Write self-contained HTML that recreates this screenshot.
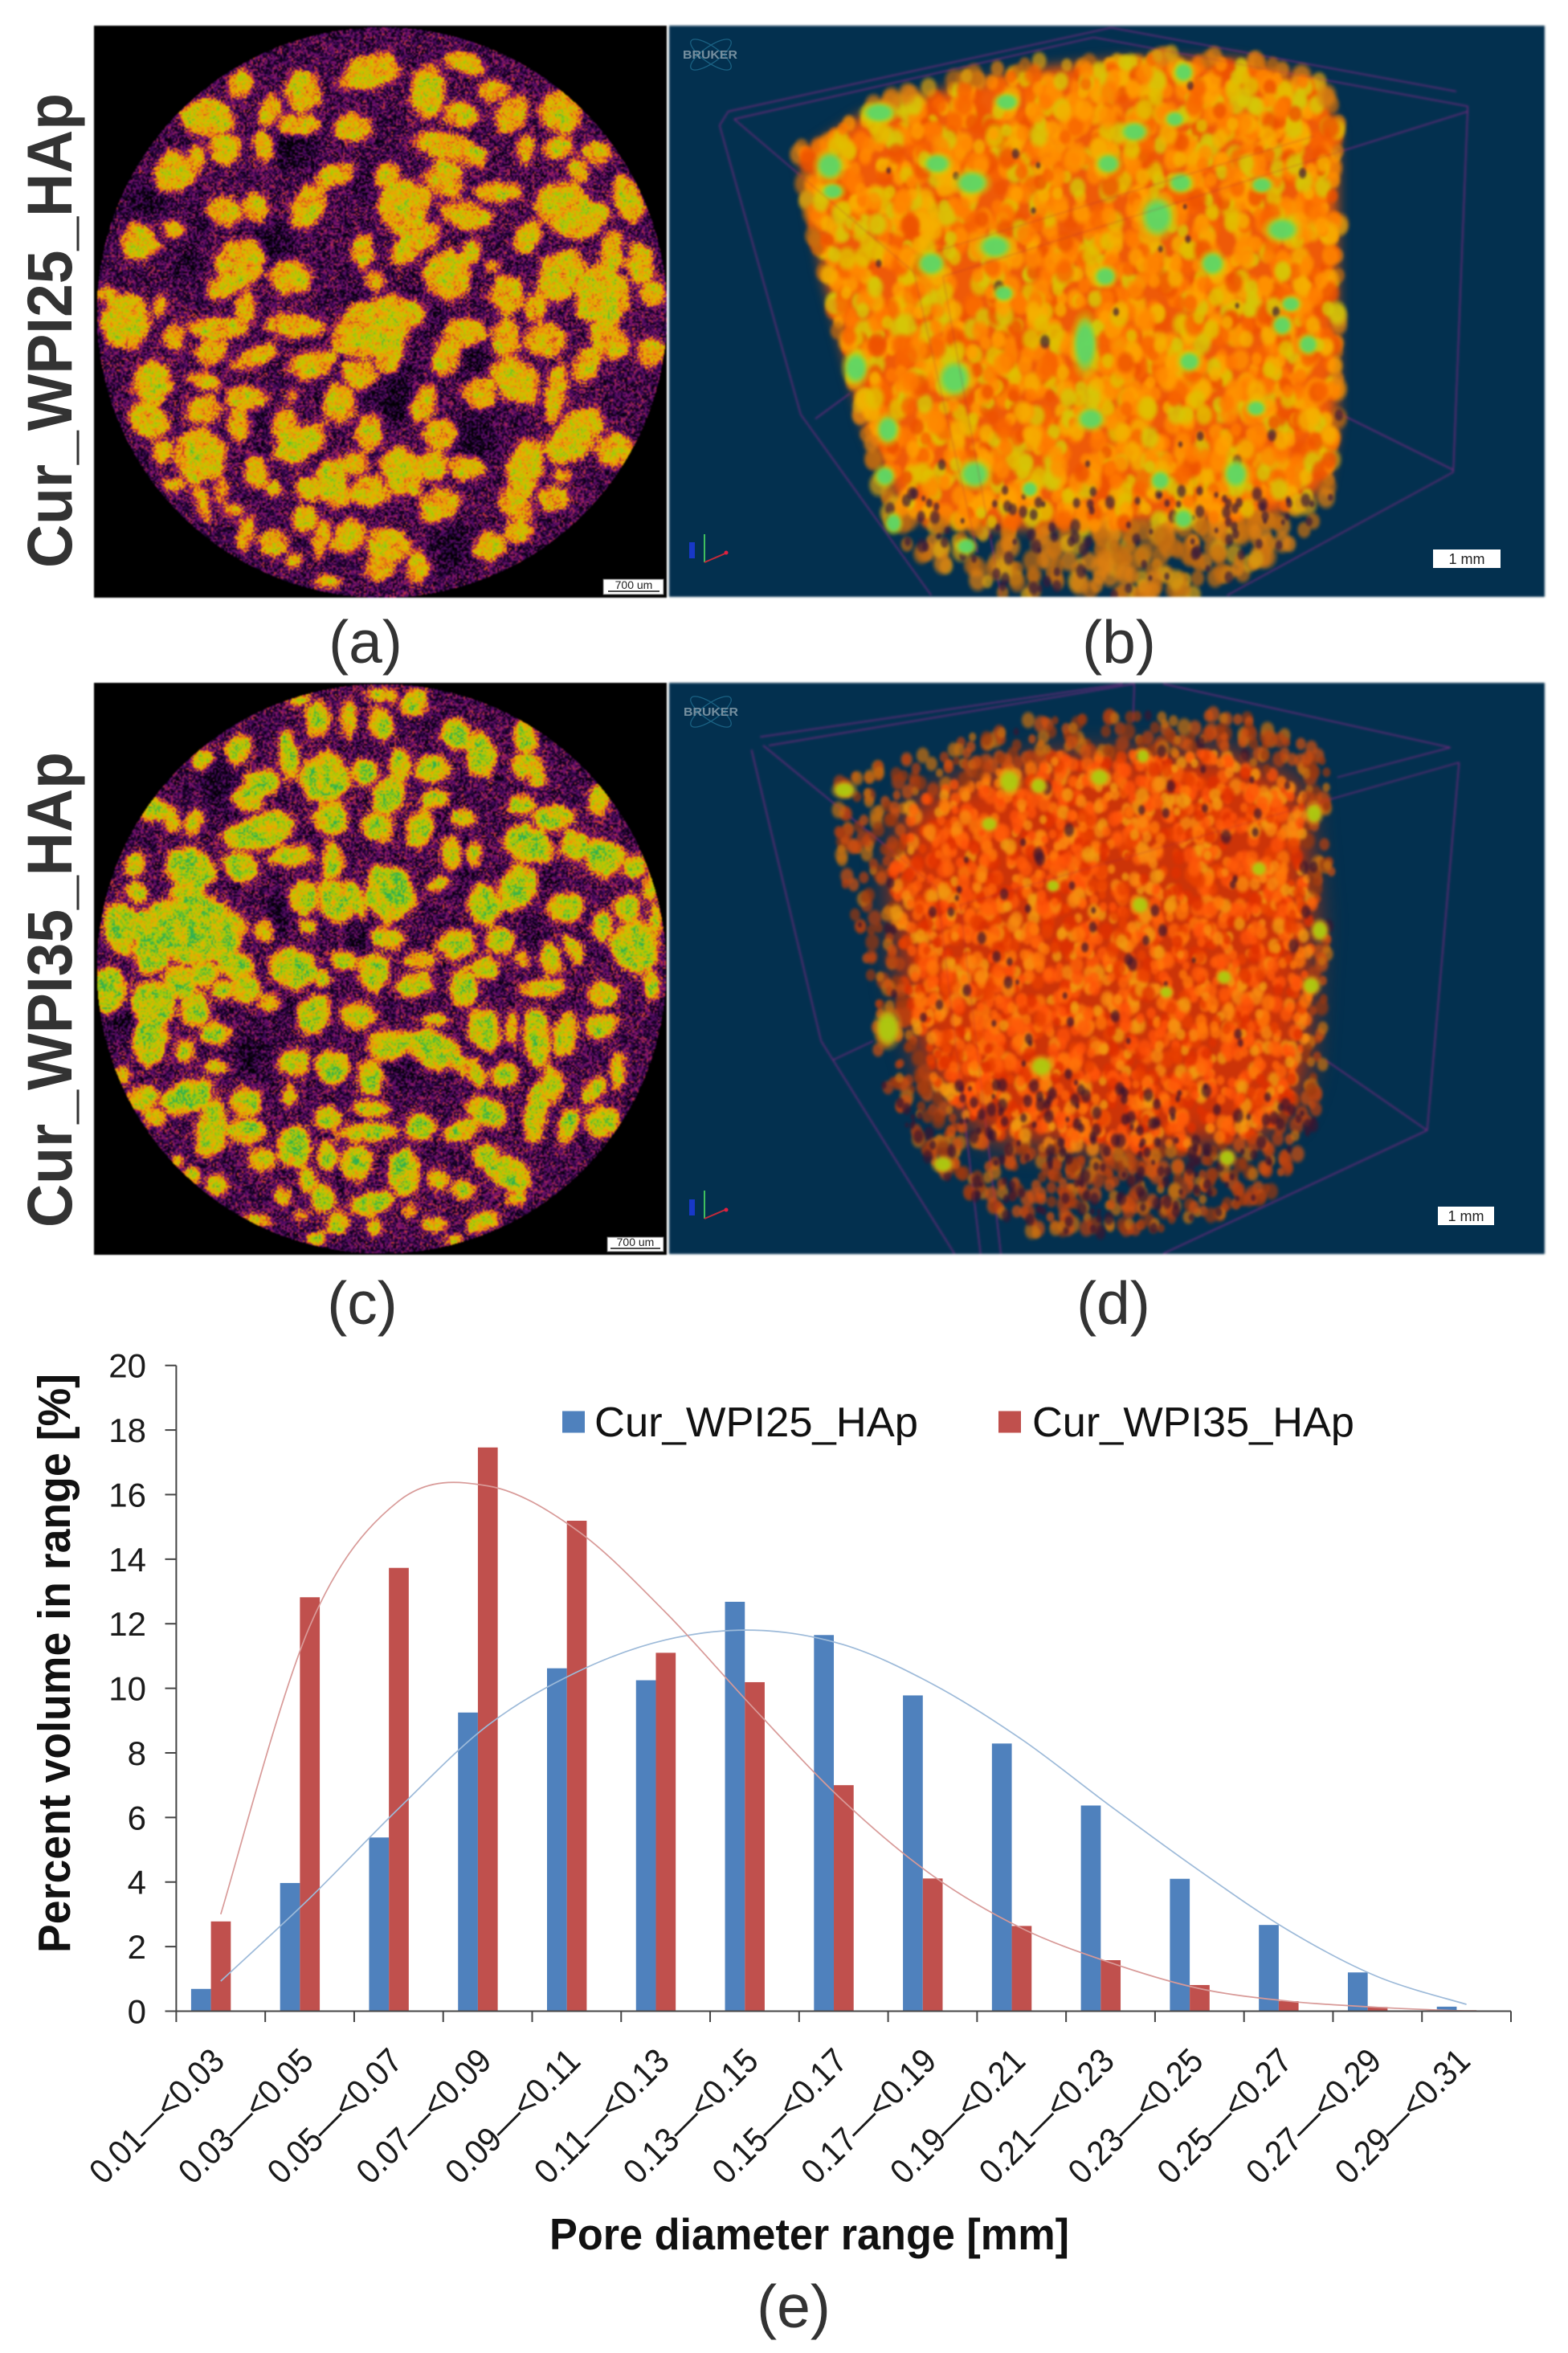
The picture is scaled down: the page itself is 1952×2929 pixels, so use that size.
<!DOCTYPE html>
<html lang="en">
<head>
<meta charset="utf-8">
<title>Cur_WPI HAp micro-CT and pore size distribution</title>
<style>
html,body{margin:0;padding:0;background:#fff;}
#figure{position:relative;width:1952px;height:2929px;overflow:hidden;background:#fff;font-family:"Liberation Sans",sans-serif;}
canvas{position:absolute;display:block;filter:blur(0.8px);}
#panelB,#panelD{filter:blur(1.4px);}
svg{position:absolute;left:0;top:0;}
svg text{font-family:"Liberation Sans",sans-serif;}
</style>
</head>
<body>
<div id="figure">
<canvas id="panelA" width="713" height="712" style="left:117px;top:32px"></canvas>
<canvas id="panelB" width="1090" height="711" style="left:833px;top:32px"></canvas>
<canvas id="panelC" width="713" height="712" style="left:117px;top:850px"></canvas>
<canvas id="panelD" width="1090" height="711" style="left:833px;top:850px"></canvas>

<svg id="overlay" width="1952" height="2929" viewBox="0 0 1952 2929">
  <g opacity="0.85">
    <ellipse cx="885" cy="68" rx="30" ry="10" fill="none" stroke="#1f6a8c" stroke-width="1.3" transform="rotate(35 885 68)"/>
    <ellipse cx="885" cy="68" rx="30" ry="10" fill="none" stroke="#1f6a8c" stroke-width="1.3" transform="rotate(-35 885 68)"/>
    <text x="850" y="73" font-size="15" font-weight="bold" fill="#8aa0ad" textLength="68" lengthAdjust="spacingAndGlyphs">BRUKER</text>
  </g>
  <g opacity="0.85">
    <ellipse cx="885" cy="886" rx="30" ry="10" fill="none" stroke="#1f6a8c" stroke-width="1.3" transform="rotate(35 885 886)"/>
    <ellipse cx="885" cy="886" rx="30" ry="10" fill="none" stroke="#1f6a8c" stroke-width="1.3" transform="rotate(-35 885 886)"/>
    <text x="851" y="891" font-size="15" font-weight="bold" fill="#8aa0ad" textLength="68" lengthAdjust="spacingAndGlyphs">BRUKER</text>
  </g>
  <g fill="none" stroke-width="2">
    <path d="M877 700V665" stroke="#3fbf5f"/><path d="M877 700L905 688" stroke="#c02a3a"/>
    <rect x="858" y="675" width="7" height="20" fill="#1838c8" stroke="none"/>
    <circle cx="904" cy="688" r="2.5" fill="#e02040" stroke="none"/>
  </g>
  <g fill="none" stroke-width="2">
    <path d="M877 1517V1482" stroke="#3fbf5f"/><path d="M877 1517L905 1505" stroke="#c02a3a"/>
    <rect x="858" y="1493" width="7" height="20" fill="#1838c8" stroke="none"/>
    <circle cx="904" cy="1506" r="2.5" fill="#e02040" stroke="none"/>
  </g>

  <g>
    <rect x="751" y="721" width="75" height="19" fill="#fff" stroke="#666"/>
    <text x="789" y="733" font-size="14" text-anchor="middle" fill="#222">700 um</text>
    <path d="M757 736H821" stroke="#111" stroke-width="1.5"/>
  </g>
  <g>
    <rect x="756" y="1540" width="70" height="18" fill="#fff" stroke="#666"/>
    <text x="791" y="1551" font-size="14" text-anchor="middle" fill="#222">700 um</text>
    <path d="M760 1554H822" stroke="#111" stroke-width="1.5"/>
  </g>
  <g>
    <rect x="1784" y="684" width="84" height="23" fill="#fff"/>
    <text x="1826" y="702" font-size="18" text-anchor="middle" fill="#222">1 mm</text>
  </g>
  <g>
    <rect x="1790" y="1502" width="70" height="23" fill="#fff"/>
    <text x="1825" y="1520" font-size="18" text-anchor="middle" fill="#222">1 mm</text>
  </g>

  <text transform="translate(89 707) rotate(-90)" font-size="79" font-weight="bold" fill="#333" textLength="591" lengthAdjust="spacingAndGlyphs">Cur_WPI25_HAp</text>
  <text transform="translate(89 1528) rotate(-90)" font-size="79" font-weight="bold" fill="#333" textLength="592" lengthAdjust="spacingAndGlyphs">Cur_WPI35_HAp</text>

  <text x="455" y="825" font-size="75" text-anchor="middle" fill="#333">(a)</text>
  <text x="1393" y="825" font-size="75" text-anchor="middle" fill="#333">(b)</text>
  <text x="451" y="1648" font-size="75" text-anchor="middle" fill="#333">(c)</text>
  <text x="1386" y="1648" font-size="75" text-anchor="middle" fill="#333">(d)</text>
  <text x="988" y="2897" font-size="75" text-anchor="middle" fill="#333">(e)</text>

  <g id="chart">
    <g id="bars"></g>
    <g id="curves"></g>
    <g id="axes"></g>
    <text transform="translate(87 2431) rotate(-90)" font-size="57" font-weight="bold" fill="#111" textLength="721" lengthAdjust="spacingAndGlyphs">Percent volume in range [%]</text>
    <text x="684" y="2800" font-size="55" font-weight="bold" fill="#111" textLength="647" lengthAdjust="spacingAndGlyphs">Pore diameter range [mm]</text>
    <g>
      <rect x="700" y="1756.5" width="28" height="27" fill="#4f81bd"/>
      <text x="740" y="1788" font-size="52" fill="#111" textLength="403" lengthAdjust="spacingAndGlyphs">Cur_WPI25_HAp</text>
      <rect x="1243" y="1756.5" width="28" height="27" fill="#c0504d"/>
      <text x="1285" y="1788" font-size="52" fill="#111" textLength="401" lengthAdjust="spacingAndGlyphs">Cur_WPI35_HAp</text>
    </g>
  </g>
</svg>
</div>

<script>
/* ---------- chart data ---------- */
const categories = ["0.01—<0.03","0.03—<0.05","0.05—<0.07","0.07—<0.09","0.09—<0.11","0.11—<0.13","0.13—<0.15","0.15—<0.17","0.17—<0.19","0.19—<0.21","0.21—<0.23","0.23—<0.25","0.25—<0.27","0.27—<0.29","0.29—<0.31"];
const valuesWPI25 = [0.69,3.97,5.38,9.25,10.62,10.25,12.68,11.65,9.78,8.29,6.37,4.1,2.67,1.2,0.14];
const valuesWPI35 = [2.78,12.82,13.73,17.46,15.19,11.1,10.19,7.0,4.11,2.64,1.58,0.81,0.31,0.13,0.03];
const trendWPI25 = [0.93,3.5,6.28,8.85,10.5,11.5,11.8,11.35,10.13,8.42,6.35,4.35,2.5,1.07,0.21];
const trendWPI35 = [3.0,11.92,15.8,16.27,14.9,12.35,9.35,6.5,4.2,2.57,1.5,0.7,0.31,0.12,0.0];
const yTickLabels = [0,2,4,6,8,10,12,14,16,18,20];

/* ---------- micro-CT appearance (cross-section grains: x, y, rx, ry, angle in crop units) ---------- */
const grainsA = [[720,170,55,40,-30],[590,210,32,45,0],[835,215,32,55,0],[910,150,45,22,30],[960,215,30,25,0],[1095,265,40,45,-20],[1000,270,28,40,10],[580,295,45,22,0],[690,300,35,28,0],[405,280,45,40,-20],[470,200,20,35,20],[525,260,20,35,20],[875,345,75,30,20],[900,270,30,30,40],[1090,345,25,25,0],[1025,350,15,30,0],[1165,365,28,28,30],[1130,400,18,30,-20],[340,405,38,45,0],[440,350,28,35,20],[515,345,20,35,-15],[385,375,15,30,0],[650,415,40,25,-20],[755,410,20,30,0],[865,420,35,45,0],[1225,470,25,55,-10],[975,455,45,22,0],[1110,500,50,65,-25],[1170,505,18,25,0],[790,490,45,60,0],[600,490,30,50,20],[500,490,25,30,0],[440,495,35,30,20],[910,510,50,28,15],[270,570,35,40,0],[340,540,22,18,30],[1030,560,25,40,20],[830,560,20,40,40],[1195,590,22,40,0],[1250,620,30,50,0],[470,620,45,50,30],[570,650,45,35,30],[920,590,18,30,15],[960,625,15,15,0],[870,650,40,55,-10],[1095,650,40,65,20],[1180,695,50,60,0],[990,690,32,45,0],[730,660,20,22,0],[710,590,22,40,0],[795,585,25,40,30],[1275,690,25,30,0],[430,680,30,25,-30],[480,730,20,40,10],[310,720,14,25,10],[205,690,15,15,0],[240,760,45,55,0],[340,790,18,30,0],[420,770,55,25,0],[575,765,55,25,10],[720,770,80,50,-30],[800,740,30,30,0],[910,780,45,30,10],[985,795,25,40,0],[1045,725,20,30,0],[1060,800,35,40,20],[1195,800,30,45,-30],[1270,830,25,30,0],[300,900,35,45,0],[410,830,30,30,20],[500,840,45,22,-30],[610,860,45,35,-25],[760,830,25,40,10],[870,830,25,55,15],[1005,890,45,60,-20],[700,880,35,30,0],[1145,860,25,40,15],[1085,930,20,60,10],[400,895,35,20,20],[480,935,35,30,0],[295,990,35,45,-20],[400,965,35,30,0],[570,930,12,15,0],[660,950,30,40,-10],[825,950,22,45,15],[935,925,28,40,0],[465,1000,20,35,0],[555,1000,25,30,0],[585,1045,55,35,-35],[720,1020,25,45,0],[860,1020,30,40,0],[1125,1025,35,75,35],[1200,1060,35,40,0],[385,1070,45,55,0],[320,1060,20,25,0],[500,1110,22,40,0],[650,1135,30,50,-15],[600,1145,25,25,0],[695,1090,22,22,0],[785,1105,35,55,-10],[845,1090,25,35,0],[1025,1105,30,65,10],[905,1100,35,25,20],[1085,1170,30,30,20],[1100,1120,20,15,0],[720,1155,35,40,0],[855,1185,40,40,-10],[1005,1190,25,40,-30],[535,1150,15,20,0],[430,1150,12,35,0],[395,1180,12,50,-15],[340,1140,20,15,0],[595,1220,25,30,0],[455,1200,22,15,0],[480,1255,18,45,10],[535,1275,25,30,-20],[630,1260,15,45,10],[680,1260,30,40,10],[760,1285,45,38,15],[815,1335,20,40,0],[960,1285,30,35,30],[1010,1250,25,25,0],[575,1320,15,15,0],[640,1370,25,15,0],[740,1340,30,25,0]];
const darksA = [[575,355,50,40],[710,430,30,25],[530,580,40,50],[370,620,20,50],[285,470,45,35],[400,520,35,20],[770,920,30,80],[925,840,30,40],[920,1030,40,60],[510,990,20,40],[720,940,25,30],[880,1290,35,50],[710,690,30,20],[850,750,15,40]];
const grainsC = [[620,125,22,40,0],[680,120,15,40,0],[745,130,22,40,-10],[810,85,22,30,0],[745,65,30,15,0],[585,80,22,12,-20],[890,155,25,35,-10],[940,205,28,60,-10],[845,235,30,35,0],[780,230,18,35,0],[1025,165,20,35,0],[1025,230,25,25,0],[1050,260,15,25,0],[395,220,20,25,20],[465,195,20,35,20],[510,270,30,25,0],[565,210,15,55,-5],[635,260,45,55,10],[710,245,25,30,0],[485,310,30,35,0],[760,305,28,40,0],[1020,325,25,25,0],[1080,350,35,25,0],[850,310,25,20,0],[645,355,30,40,0],[735,375,35,35,0],[820,385,25,50,10],[300,335,30,25,-40],[380,365,18,30,10],[335,355,15,35,-10],[510,385,60,35,-15],[1170,310,20,35,0],[1035,415,50,35,30],[900,355,25,20,0],[1125,420,28,35,0],[1180,450,35,40,0],[1235,470,22,25,20],[470,470,30,30,0],[370,475,45,40,0],[370,530,30,25,0],[265,465,20,30,0],[265,530,20,25,0],[570,445,40,25,0],[650,455,20,40,0],[590,545,25,35,0],[880,440,18,40,0],[925,440,12,30,0],[760,530,50,65,0],[650,555,30,55,-15],[695,545,15,45,-20],[860,510,25,15,-30],[1015,520,35,55,20],[945,560,30,45,0],[1105,565,35,30,0],[1225,565,22,30,0],[1175,610,22,35,0],[1270,520,15,30,0],[1280,600,10,35,0],[235,615,30,55,0],[370,620,90,65,15],[515,620,18,25,0],[600,610,15,15,0],[760,640,35,25,0],[890,650,35,35,0],[975,645,25,30,0],[1240,660,45,50,0],[1120,665,15,35,-25],[295,670,28,50,0],[1075,690,18,40,0],[1020,690,10,20,0],[570,705,45,45,0],[670,690,22,20,0],[730,715,30,40,0],[820,690,30,15,0],[805,745,35,25,-20],[945,710,25,25,30],[905,755,25,45,0],[460,700,30,30,-30],[395,720,25,28,0],[350,740,28,35,0],[215,755,28,50,0],[1270,745,15,35,0],[630,735,12,20,0],[300,795,38,50,0],[1060,755,45,20,-5],[435,760,20,20,0],[480,755,25,30,0],[525,790,20,20,0],[380,810,30,35,0],[1175,775,28,30,-30],[610,820,30,45,10],[700,820,30,30,0],[1170,845,28,28,0],[850,830,25,15,0],[950,855,30,50,-15],[1000,850,10,35,0],[1050,875,25,70,0],[1105,860,20,50,10],[420,860,30,25,0],[290,885,30,50,0],[800,875,20,15,0],[760,890,35,35,0],[840,900,30,45,-30],[650,945,30,35,0],[720,965,22,40,0],[575,930,25,30,0],[360,905,15,25,0],[420,940,25,15,0],[890,920,15,40,-25],[930,955,15,35,-20],[985,960,25,25,0],[1080,980,18,40,0],[1160,995,15,35,30],[1205,950,12,40,0],[240,960,12,20,0],[365,1010,50,35,-30],[280,1015,25,25,0],[480,1020,30,35,0],[565,1010,15,25,0],[1045,1050,20,70,10],[955,1050,45,28,40],[1175,1070,30,35,-10],[1110,1080,18,40,15],[410,1090,25,60,5],[725,1040,40,18,0],[820,1080,25,30,0],[900,1090,35,22,-20],[480,1095,35,25,0],[640,1060,25,25,0],[715,1095,55,18,0],[300,1060,20,20,0],[570,1130,30,45,0],[640,1150,18,35,0],[510,1160,25,28,0],[695,1170,30,35,0],[790,1190,28,50,0],[945,1150,22,25,0],[990,1190,35,45,-40],[855,1205,18,20,0],[905,1230,20,20,0],[345,1160,12,15,0],[375,1195,15,20,0],[425,1220,20,25,0],[600,1210,15,30,0],[630,1250,20,30,0],[730,1260,40,25,-15],[550,1245,15,20,0],[940,1305,28,20,-20],[850,1310,22,15,-15],[660,1310,25,25,0],[500,1300,25,12,20],[620,1345,20,15,0],[590,1290,15,10,0],[800,1280,12,15,0],[1010,1250,18,15,0],[730,1320,15,20,0],[885,1350,15,12,0]];
const darksC = [[425,270,30,70],[470,330,25,60],[860,350,15,60],[490,920,30,40],[790,945,30,30],[900,460,25,60],[700,650,20,50],[560,790,20,30],[1060,510,25,20],[1040,620,15,40],[550,570,30,40],[240,830,30,40]];

const outlineB = [[240,350],[350,250],[520,180],[650,140],[800,125],[1000,125],[1140,170],[1175,290],[1175,1000],[1160,1180],[1100,1270],[950,1400],[590,1400],[440,1300],[400,1250],[350,1000],[280,650],[240,400]];
const coreB = [[245,365],[350,270],[520,200],[660,160],[800,140],[1000,140],[1130,190],[1170,300],[1170,1000],[1150,1150],[1060,1215],[900,1230],[600,1245],[420,1215],[355,1000],[285,650]];
const spotsB = [[380,265,30,25],[295,390,25,35],[300,450,20,20],[540,430,30,30],[480,385,25,25],[600,240,22,22],[775,385,22,25],[820,310,25,25],[890,280,18,20],[905,170,18,25],[860,510,30,50],[955,620,22,30],[770,650,20,25],[595,690,18,20],[470,620,25,30],[735,810,22,70],[915,850,20,25],[1040,435,20,20],[1075,540,30,30],[1090,715,18,20],[1075,765,18,25],[340,865,22,40],[510,890,30,45],[395,1010,20,35],[390,1120,18,25],[545,1115,28,35],[745,985,25,28],[995,1115,22,35],[865,1130,18,25],[1030,960,18,20],[580,580,30,30],[900,430,22,25],[1120,810,18,25],[640,1150,15,20],[905,1220,18,25],[530,1285,18,20],[405,1230,15,25]];
const outlineD = [[300,270],[480,190],[640,120],[1000,110],[1160,210],[1160,600],[1145,950],[1130,1100],[1050,1250],[900,1320],[650,1340],[540,1250],[470,1170],[390,1000],[360,750],[320,500]];
const coreD = [[430,330],[520,270],[680,210],[980,200],[1110,280],[1130,600],[1115,950],[1090,1040],[1030,1110],[800,1140],[570,1110],[460,960],[420,750],[400,500]];
const spotsD = [[320,290,20,20],[605,270,20,30],[655,280,15,20],[760,260,18,22],[835,210,12,18],[1130,345,15,25],[1140,620,15,25],[395,850,22,45],[660,940,20,25],[830,560,16,22],[680,515,12,15],[975,730,14,18],[1125,750,16,22],[875,765,12,15],[490,1170,18,20],[980,1155,15,20],[1035,475,14,18],[570,370,15,18]];
const wireB = [[105,295,245,975],[245,975,470,1400],[105,295,120,262],[120,262,780,65],[780,65,1375,215],[130,280,750,88],[750,88,1395,250],[1395,250,1370,1110],[1370,1110,1350,1125],[1350,1125,980,1400],[490,650,1395,262],[490,650,590,1400],[130,280,440,640],[440,640,550,1300],[270,985,330,925],[1170,970,1370,1105],[480,590,1130,320]];
const wireD = [[160,195,280,880],[280,880,510,1380],[175,165,800,40],[190,185,820,40],[870,40,1365,190],[1365,190,1170,260],[1380,225,1325,1090],[1325,1090,870,1380],[520,560,1380,225],[520,560,590,1380],[180,185,480,520],[480,520,555,1380],[300,925,370,880],[1150,925,1325,1090],[820,40,818,130]];

/* ---------- helpers ---------- */
function seeded(s){return function(){s=(s*1664525+1013904223)>>>0;return s/4294967296;};}
const cmap=[[0,0,0,0],[.16,22,2,36],[.3,70,10,96],[.44,134,21,111],[.54,208,64,42],[.62,240,138,16],[.72,232,176,0],[.82,196,196,0],[.9,150,204,16],[1,48,176,80]];
const lut=new Uint8Array(256*3);
for(let i=0;i<256;i++){const t=i/255;let k=0;while(k<cmap.length-2&&t>cmap[k+1][0])k++;const a=cmap[k],b=cmap[k+1],f=Math.min(1,(t-a[0])/(b[0]-a[0]));for(let c=0;c<3;c++)lut[i*3+c]=a[c+1]+(b[c+1]-a[c+1])*f;}

function layer(w,h){const c=document.createElement('canvas');c.width=w;c.height=h;return c;}

function drawGrains(ctx,grains,seed,ox,oy){
  const rng=seeded(seed);
  ctx.fillStyle='#fff';
  grains.forEach(g=>{
    const n=5+Math.floor(rng()*3),rot=g[4]*Math.PI/180,ph=rng()*6.28;
    ctx.beginPath();
    for(let i=0;i<n;i++){
      const a=ph+i/n*6.283,j=1.0+rng()*.42;
      const ex=Math.cos(a)*g[2]*j,ey=Math.sin(a)*g[3]*j;
      const X=g[0]+ex*Math.cos(rot)-ey*Math.sin(rot),Y=g[1]+ex*Math.sin(rot)+ey*Math.cos(rot);
      const px=X/1.568+ox,py=Y/1.889+oy;
      if(i===0)ctx.moveTo(px,py);else ctx.lineTo(px,py);
    }
    ctx.closePath();ctx.fill();
  });
}

function renderSection(id,grains,darks,yBase,o){
  const cv=document.getElementById(id),W=cv.width,H=cv.height,ctx=cv.getContext('2d');
  const ox=-117,oy=yBase-o.top,rng=seeded(o.seed+100);
  const sharp=layer(W,H),sc=sharp.getContext('2d');sc.fillStyle='#000';sc.fillRect(0,0,W,H);sc.filter='blur(3px)';drawGrains(sc,grains,o.seed,ox,oy);
  const wide=layer(W,H),wc=wide.getContext('2d');wc.fillStyle='#000';wc.fillRect(0,0,W,H);wc.filter='blur(9px)';drawGrains(wc,grains,o.seed,ox,oy);
  const dk=layer(W,H),dc=dk.getContext('2d');dc.fillStyle='#000';dc.fillRect(0,0,W,H);dc.filter='blur(10px)';dc.fillStyle='#fff';
  darks.forEach(d=>{dc.beginPath();dc.ellipse(d[0]/1.568+ox,d[1]/1.889+oy,d[2]/1.568,d[3]/1.889,0,0,6.283);dc.fill();});
  /* low-frequency mottling */
  const lw=Math.ceil(W/9),lh=Math.ceil(H/9),lo=layer(lw,lh),lc=lo.getContext('2d'),ld=lc.createImageData(lw,lh);
  for(let i=0;i<lw*lh;i++){const g=rng()*255;ld.data[i*4]=ld.data[i*4+1]=ld.data[i*4+2]=g;ld.data[i*4+3]=255;}
  lc.putImageData(ld,0,0);
  const mot=layer(W,H),mc=mot.getContext('2d');mc.imageSmoothingEnabled=true;mc.drawImage(lo,0,0,W,H);
  const S=sc.getImageData(0,0,W,H).data,Wd=wc.getImageData(0,0,W,H).data,D=dc.getImageData(0,0,W,H).data,M=mc.getImageData(0,0,W,H).data;
  const img=ctx.createImageData(W,H),P=img.data;
  const cell=2,nw=Math.floor(W/cell)+2,noise=new Float32Array(nw*(Math.floor(H/cell)+2));
  for(let i=0;i<noise.length;i++)noise[i]=rng()-.5;
  for(let y=0;y<H;y++)for(let x=0;x<W;x++){
    const i=(y*W+x)*4,dx=x-o.cx,dy=y-o.cy;
    P[i+3]=255;
    if(dx*dx+dy*dy>o.r*o.r){P[i]=P[i+1]=P[i+2]=0;continue;}
    const s=S[i]/255,w=Wd[i]/255,d=D[i]/255,m=M[i]/255-.5,n=noise[Math.floor(y/cell)*nw+Math.floor(x/cell)];
    let v=.28+o.a*s+o.b*w-.15*d*(1-s)+n*(.46-.2*s)+m*(.1+.14*s);
    v=Math.max(0,Math.min(1,v));
    const k=Math.round(v*255)*3;
    P[i]=lut[k];P[i+1]=lut[k+1];P[i+2]=lut[k+2];
  }
  ctx.putImageData(img,0,0);
}

function inPoly(p,x,y){let c=false;for(let i=0,j=p.length-1;i<p.length;j=i++){const a=p[i],b=p[j];if((a[1]>y)!==(b[1]>y)&&x<(b[0]-a[0])*(y-a[1])/(b[1]-a[1])+a[0])c=!c;}return c;}

function blob(ctx,x,y,rx,ry,col,al){
  ctx.save();ctx.translate(x,y);ctx.scale(rx,ry);
  const g=ctx.createRadialGradient(0,0,0,0,0,1);
  g.addColorStop(0,col);g.addColorStop(.55,col);g.addColorStop(1,col+'00');
  ctx.globalAlpha=al;ctx.fillStyle=g;ctx.beginPath();ctx.arc(0,0,1,0,6.283);ctx.fill();ctx.restore();
}

function renderVolume(id,outline,core,spots,wire,o){
  const cv=document.getElementById(id),W=cv.width,H=cv.height,ctx=cv.getContext('2d'),rng=seeded(o.seed);
  const px=z=>z/1.385+820-833,py=z=>z/1.889+o.yBase-o.top;
  function wires(col,al,lw){
    ctx.save();ctx.strokeStyle=col;ctx.globalAlpha=al;ctx.lineWidth=lw;
    wire.forEach(l=>{ctx.beginPath();ctx.moveTo(px(l[0]),py(l[1]));ctx.lineTo(px(l[2]),py(l[3]));ctx.stroke();});
    ctx.restore();
  }
  ctx.fillStyle='#03304f';ctx.fillRect(0,0,W,H);
  wires('#6a2c96',.9,1.5);
  ctx.save();ctx.filter='blur('+o.baseBlur+'px)';ctx.fillStyle=o.base;ctx.beginPath();
  core.forEach((p,i)=>{i?ctx.lineTo(px(p[0]),py(p[1])):ctx.moveTo(px(p[0]),py(p[1]));});ctx.closePath();ctx.fill();ctx.restore();
  const xs=outline.map(p=>p[0]),ys=outline.map(p=>p[1]),x0=Math.min(...xs),x1=Math.max(...xs),y0=Math.min(...ys),y1=Math.max(...ys);
  let drawn=0,tries=0;
  while(drawn<o.count&&tries<o.count*30){
    tries++;
    const zx=x0+rng()*(x1-x0),zy=y0+rng()*(y1-y0);
    if(!inPoly(outline,zx,zy))continue;
    const isCore=inPoly(core,zx,zy);
    if(!isCore&&rng()>o.edge)continue;
    drawn++;
    const col=isCore?o.colors[Math.floor(rng()*o.colors.length)]:o.edgeColors[Math.floor(rng()*o.edgeColors.length)];
    const r=o.rMin+rng()*(o.rMax-o.rMin);
    blob(ctx,px(zx),py(zy),r,r*1.22,col,isCore?o.alpha:.72);
  }
  /* dark gaps through the volume, densest near the lower edge */
  let gaps=0;tries=0;
  while(gaps<o.gaps&&tries<o.gaps*40){
    tries++;
    const zx=x0+rng()*(x1-x0),zy=y0+rng()*(y1-y0);
    if(!inPoly(outline,zx,zy))continue;
    if(zy<o.gapY&&rng()>o.gapTop)continue;
    gaps++;
    const r=3+rng()*5;
    blob(ctx,px(zx),py(zy),r,r*1.4,o.gapColor,.7);
  }
  spots.forEach(s=>{
    const x=px(s[0]),y=py(s[1]),rx=s[2]/1.385*.95,ry=s[3]/1.889*.95;
    blob(ctx,x,y,rx*1.35,ry*1.35,o.spotEdge,.8);
    blob(ctx,x,y,rx,ry,o.spotCore,.85);
  });
  wires('#a02848',.28,1.4);
}

/* ---------- micro-CT panels ---------- */
renderSection('panelA',grainsA,darksA,0,{top:32,seed:7,cx:358,cy:356.5,r:355,a:.38,b:.1});
renderSection('panelC',grainsC,darksC,830,{top:850,seed:23,cx:357.5,cy:355.5,r:354.5,a:.41,b:.18});
renderVolume('panelB',outlineB,coreB,spotsB,wireB,{yBase:0,top:32,seed:11,count:2600,edge:.75,rMin:8,rMax:15,alpha:.8,base:'#ee5a08',baseBlur:8,
  colors:['#ff7a00','#ff9000','#ffa000','#f5b000','#e0c000','#f86400','#ee5200','#ff8800','#d4c808'],edgeColors:['#e08010','#c87010','#d8a010','#c06a10'],
  gaps:130,gapY:1150,gapTop:.04,gapColor:'#3a1a3a',spotCore:'#52d870',spotEdge:'#c4d410'});
renderVolume('panelD',outlineD,coreD,spotsD,wireD,{yBase:830,top:850,seed:31,count:2900,edge:.7,rMin:5.5,rMax:11,alpha:.78,base:'#cc3408',baseBlur:18,
  colors:['#ff5208','#ff6408','#ff7808','#f88c10','#f09c10','#e84000','#e03000','#ff5a08'],edgeColors:['#d05010','#b84010','#c87010','#9a3810'],
  gaps:260,gapY:980,gapTop:.12,gapColor:'#3a1530',spotCore:'#a8d010',spotEdge:'#e0a010'});

/* ---------- chart ---------- */
const NS='http://www.w3.org/2000/svg';
const axisLeft=219.4,axisRight=1881,axisBottom=2503.5,axisTop=1699.7,yMax=20;
const catW=(axisRight-axisLeft)/categories.length,barW=24.7,barOff=18.5;
const xBand=i=>axisLeft+i*catW;
const xCenter=i=>xBand(i)+catW/2;
const yScale=v=>axisBottom-(v/yMax)*(axisBottom-axisTop);
const barsG=document.getElementById('bars'),curvesG=document.getElementById('curves'),axesG=document.getElementById('axes');

function addBars(vals,offset,color,name){
  vals.forEach((v,i)=>{
    const r=document.createElementNS(NS,'rect');
    
    
    r.setAttribute('x',xBand(i)+offset);
    r.setAttribute('y',yScale(v));
    r.setAttribute('width',barW);
    r.setAttribute('height',axisBottom-yScale(v));
    r.setAttribute('fill',color);
    barsG.appendChild(r);
  });
}
addBars(valuesWPI25,barOff,'#4f81bd','bar-wpi25');
addBars(valuesWPI35,barOff+barW,'#c0504d','bar-wpi35');

function smoothPath(vals){
  const p=vals.map((v,i)=>[xCenter(i),yScale(v)]);
  let d='M'+p[0][0]+' '+p[0][1];
  for(let i=0;i<p.length-1;i++){
    const a=p[Math.max(0,i-1)],b=p[i],c=p[i+1],e=p[Math.min(p.length-1,i+2)];
    d+=' C'+(b[0]+(c[0]-a[0])/6)+' '+(b[1]+(c[1]-a[1])/6)+' '+(c[0]-(e[0]-b[0])/6)+' '+(c[1]-(e[1]-b[1])/6)+' '+c[0]+' '+c[1];
  }
  return d;
}
function addCurve(vals,color,name){
  const c=document.createElementNS(NS,'path');
  
  
  c.setAttribute('d',smoothPath(vals));
  c.setAttribute('fill','none');
  c.setAttribute('stroke',color);
  c.setAttribute('stroke-width','1.7');
  curvesG.appendChild(c);
}
addCurve(trendWPI25,'#9dbad9','trend-curve-wpi25');
addCurve(trendWPI35,'#d89a98','trend-curve-wpi35');

function addLine(x1,y1,x2,y2,name){
  const l=document.createElementNS(NS,'line');
  
  
  l.setAttribute('x1',x1);l.setAttribute('y1',y1);l.setAttribute('x2',x2);l.setAttribute('y2',y2);
  l.setAttribute('stroke','#444');l.setAttribute('stroke-width','2');
  axesG.appendChild(l);
}
addLine(axisLeft,axisTop,axisLeft,axisBottom,'y-axis-line');
addLine(205.5,axisBottom,axisRight,axisBottom,'x-axis-line');
yTickLabels.forEach(v=>{
  addLine(205.5,yScale(v),axisLeft,yScale(v),'y-tick');
  const t=document.createElementNS(NS,'text');
  
  
  t.setAttribute('x',182);t.setAttribute('y',yScale(v)+15);
  t.setAttribute('text-anchor','end');t.setAttribute('font-size','42');t.setAttribute('fill','#1a1a1a');
  t.textContent=v;
  axesG.appendChild(t);
});
for(let i=0;i<=categories.length;i++)addLine(xBand(i),axisBottom,xBand(i),2517,'x-tick');
categories.forEach((c,i)=>{
  const t=document.createElementNS(NS,'text');
  
  
  const ax=xCenter(i)+7,ay=2568;
  t.setAttribute('x',ax);t.setAttribute('y',ay);
  t.setAttribute('text-anchor','end');t.setAttribute('font-size','43');t.setAttribute('fill','#1a1a1a');
  t.setAttribute('textLength','216');t.setAttribute('lengthAdjust','spacingAndGlyphs');
  t.setAttribute('transform','rotate(-45 '+ax+' '+ay+')');
  t.textContent=c;
  axesG.appendChild(t);
});
</script>
</body>
</html>
